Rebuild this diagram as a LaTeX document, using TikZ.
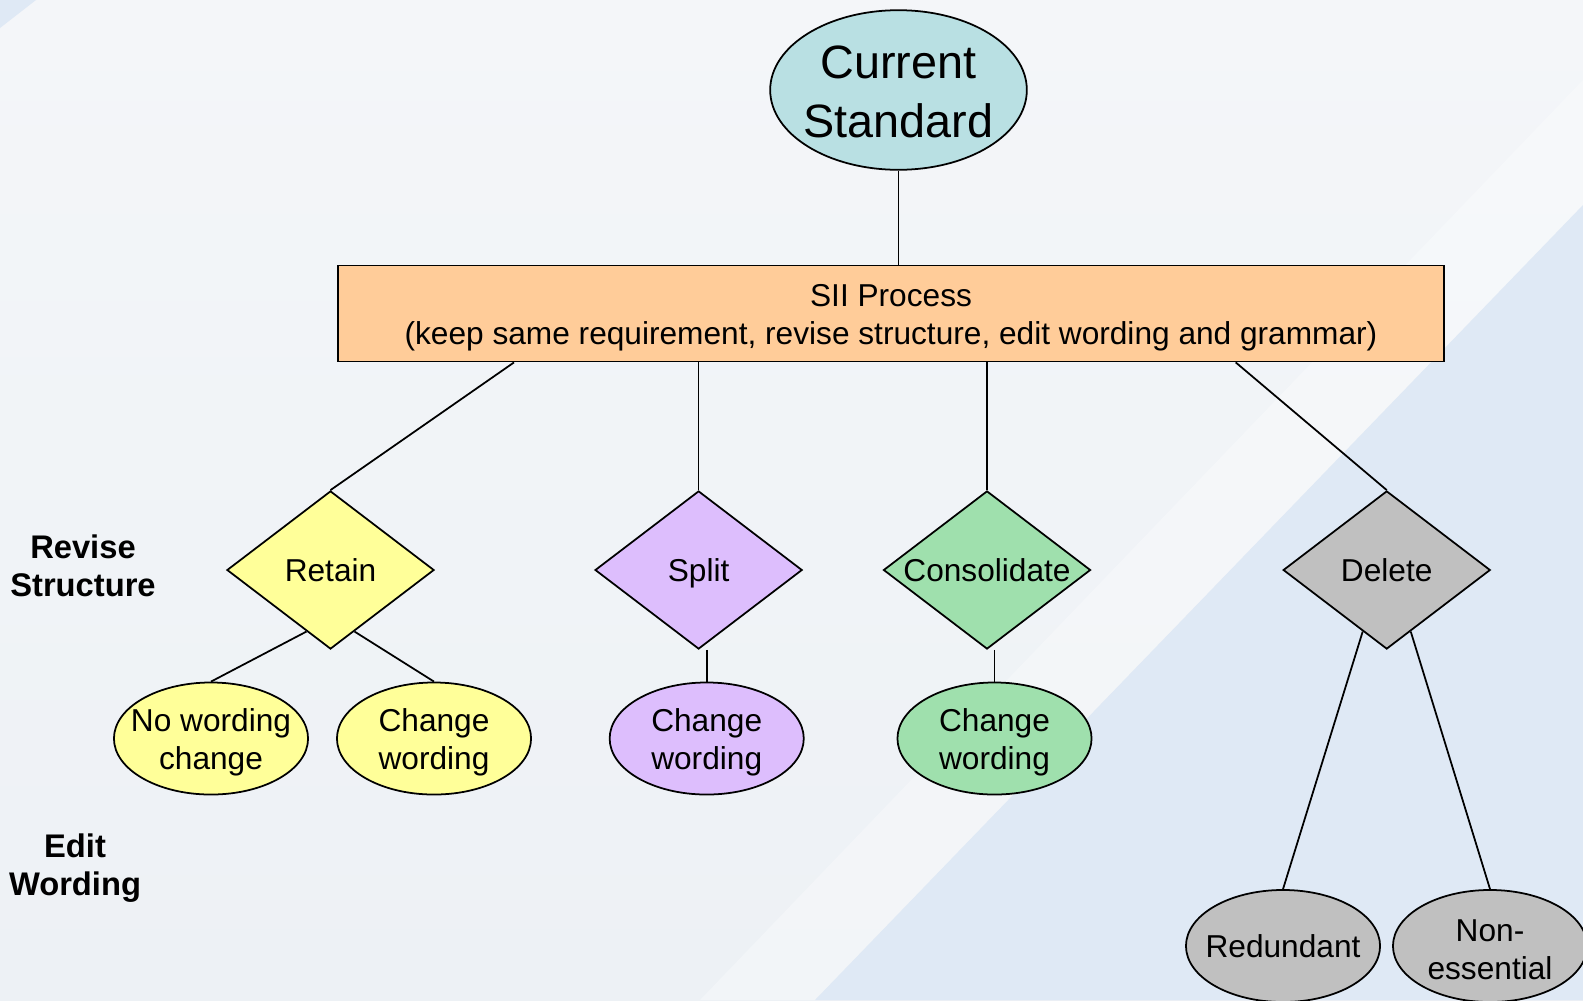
\documentclass[tikz,border=0pt]{standalone}
\usepackage{fontspec}
\setmainfont{Liberation Sans}
\usetikzlibrary{shapes.geometric,calc}
\definecolor{stdfill}{HTML}{B9E0E3}
\definecolor{procfill}{HTML}{FFCC99}
\definecolor{retainfill}{HTML}{FFFF99}
\definecolor{splitfill}{HTML}{DDBEFD}
\definecolor{consfill}{HTML}{9FE0AD}
\definecolor{delfill}{HTML}{C0C0C0}
\definecolor{bgtop}{HTML}{F4F6F9}
\definecolor{bgbottom}{HTML}{EDF1F5}
\definecolor{bgblue}{HTML}{DFE9F5}

\begin{document}
\begin{tikzpicture}[x=0.01cm, y=-0.01cm,
  txt/.style={font=\fontsize{9pt}{10.9pt}\selectfont, align=center, yshift=-0.04cm},
  word/.style={font=\fontsize{9pt}{10.9pt}\selectfont, text height=6.44pt, text depth=0pt},
  choice/.style={diamond, draw, line width=0.5pt, aspect=1, minimum width=2.07cm, minimum height=1.58cm, inner sep=0pt},
  oval/.style={ellipse, draw, line width=0.5pt, minimum width=1.94cm, minimum height=1.12cm, inner sep=0pt},
  side/.style={font=\fontsize{9.3pt}{10.9pt}\selectfont\bfseries, align=center},
  link/.style={line width=0.5pt}]
\useasboundingbox (0,0) rectangle (1583,1000);
\clip (0,0) rectangle (1583,1000);
% background
\shade[top color=bgtop, bottom color=bgbottom] (0,0) rectangle (1583,1000);
\fill[white, opacity=0.3] (700,1000) -- (1583,80) -- (1583,205) -- (815,1000) -- cycle;
\fill[bgblue] (815,1000) -- (1583,205) -- (1583,1000) -- cycle;
\fill[bgblue] (0,0) -- (36,0) -- (0,28) -- cycle;

% top of the tree
\node[ellipse, draw, line width=0.5pt, fill=stdfill, minimum width=2.565cm, minimum height=1.595cm, inner sep=0pt,
  label={[font=\fontsize{13.3pt}{16.7pt}\selectfont, align=center, yshift=-0.02cm]center:Current\\Standard}] (current) at (898.5,90) {};
\node[draw, line width=0.5pt, fill=procfill, minimum width=11.06cm, minimum height=0.96cm, inner sep=0pt,
  label={[txt]center:SII Process\\(keep same requirement, revise structure, edit wording and grammar)}] (sii) at (891,313.5) {};

% structure choices
\node[choice, fill=retainfill, label={[word]center:Retain}] (retain) at (330.5,570) {};
\node[choice, fill=splitfill, label={[word]center:Split}] (split) at (698.6,570) {};
\node[choice, fill=consfill, label={[word]center:Consolidate}] (consol) at (987,570) {};
\node[choice, fill=delfill, label={[word]center:Delete}] (delete) at (1386.7,570) {};

% wording outcomes
\node[oval, fill=retainfill, label={[txt]center:No wording\\change}] (nowording) at (211,738.5) {};
\node[oval, fill=retainfill, label={[txt]center:Change\\wording}] (retainword) at (434,738.5) {};
\node[oval, fill=splitfill, label={[txt]center:Change\\wording}] (splitword) at (706.7,738.5) {};
\node[oval, fill=consfill, label={[txt]center:Change\\wording}] (consolword) at (994.5,738.5) {};
\node[oval, fill=delfill, label={[word]center:Redundant}] (redundant) at (1283,946) {};
\node[oval, fill=delfill, label={[txt]center:Non-\\essential}] (nonessential) at (1490,946) {};

% row labels
\node[side] (revise) at (83,566) {Revise\\Structure};
\node[side] (edit) at (75,868) {Edit\\Wording};

% connectors
\draw[link] (current.south) -- (current.south |- sii.north);
\draw[link] ($(sii.south)+(-377,0)$) -- (retain.north);
\draw[link] (sii.south -| split.north) -- (split.north);
\draw[link] (sii.south -| consol.north) -- (consol.north);
\draw[link] ($(sii.south)+(344.7,0)$) -- (delete.north);
\draw[link] ($(retain.south)!0.23!(retain.west)$) -- (nowording.north);
\draw[link] ($(retain.south)!0.23!(retain.east)$) -- (retainword.north);
\draw[link] (splitword.north |- split.south) -- (splitword.north);
\draw[link] (consolword.north |- consol.south) -- (consolword.north);
\draw[link] ($(delete.south)!0.23!(delete.west)$) -- (redundant.north);
\draw[link] ($(delete.south)!0.23!(delete.east)$) -- (nonessential.north);
\end{tikzpicture}
\end{document}
